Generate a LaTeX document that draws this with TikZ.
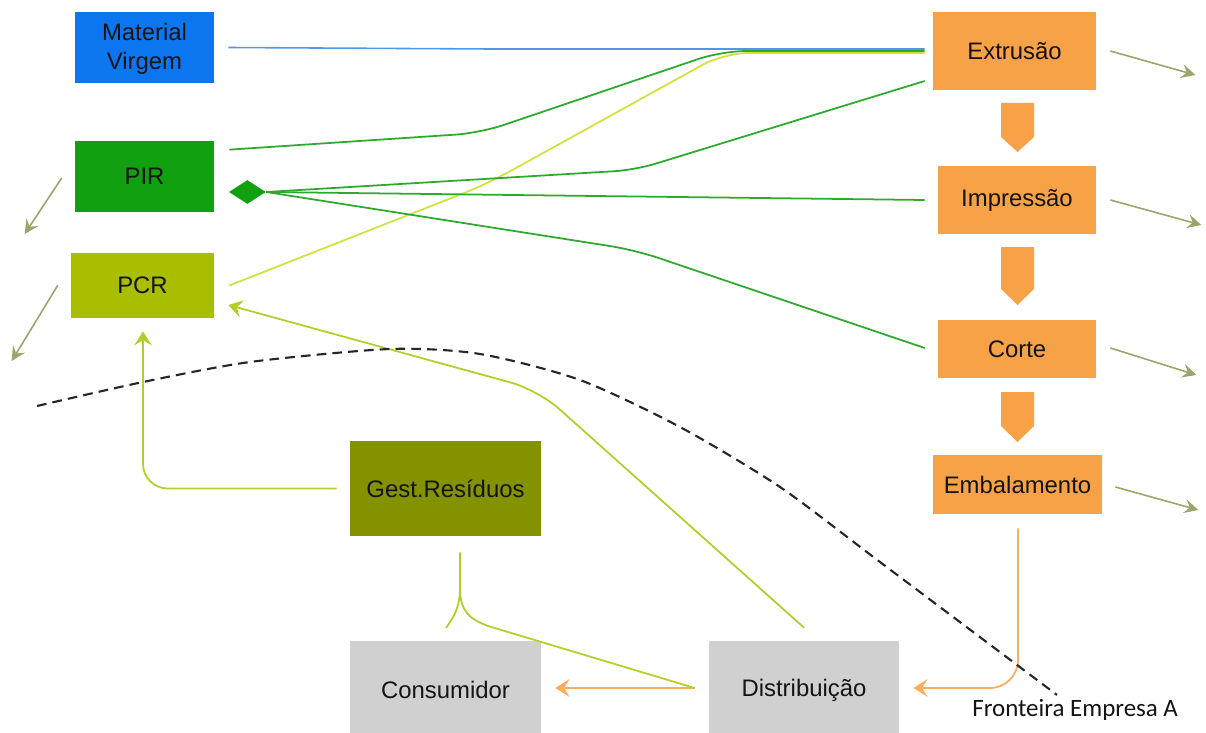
\documentclass[tikz,border=0pt]{standalone}
\usepackage{fontspec}
\setmainfont{Liberation Sans}
\newfontfamily\framefont{Carlito}
\usetikzlibrary{calc,arrows.meta,shapes.geometric}

\definecolor{txt}{RGB}{20,20,20}
\definecolor{mvblue}{RGB}{12,118,240}
\definecolor{pirgreen}{RGB}{16,160,16}
\definecolor{pcrlime}{RGB}{170,190,0}
\definecolor{procorange}{RGB}{248,162,72}
\definecolor{olivebox}{RGB}{132,146,0}
\definecolor{greybox}{RGB}{208,208,208}
\definecolor{outarrow}{RGB}{155,165,105}
\definecolor{blueline}{RGB}{80,150,235}
\definecolor{greenline}{RGB}{45,170,45}
\definecolor{yellowline}{RGB}{210,225,60}
\definecolor{returnline}{RGB}{180,205,40}
\definecolor{orangeline}{RGB}{250,172,95}

\begin{document}
\begin{tikzpicture}[x=0.02cm,y=-0.02cm,
  box/.style={draw=none, inner sep=0pt, align=center, text=txt,
    font=\fontsize{13.6}{16.2}\selectfont},
  flow/.style={line width=1pt},
  outflow/.style={line width=0.9pt, draw=outarrow,
    -{Stealth[length=8pt,width=8pt,inset=3pt]}},
  tipA/.style={-{Stealth[length=8pt,width=10pt,inset=3pt]}},
  chev/.style={fill=procorange},
  border/.style={dashed, line width=1.2pt, dash pattern=on 5.5pt off 3.5pt, draw=black!85}
]
\useasboundingbox (0,0) rectangle (1206,733);

% --- source materials
\node[box, fill=mvblue, minimum width=2.78cm, minimum height=1.42cm] (mv) at (144.5,47.5) {\strut Material\\Virgem};
\node[box, fill=pirgreen, minimum width=2.78cm, minimum height=1.42cm] (pir) at (144.5,176.5) {PIR};
\node[box, fill=pcrlime, minimum width=2.86cm, minimum height=1.30cm] (pcr) at (142.5,285.5) {PCR};

% --- process chain
\node[box, fill=procorange, minimum width=3.26cm, minimum height=1.56cm] (ext) at (1014.5,51) {Extrusão};
\node[box, fill=procorange, minimum width=3.16cm, minimum height=1.36cm] (imp) at (1017,200) {Impressão};
\node[box, fill=procorange, minimum width=3.16cm, minimum height=1.16cm] (cor) at (1017,349) {Corte};
\node[box, fill=procorange, minimum width=3.38cm, minimum height=1.18cm] (emb) at (1017.5,484.5) {Embalamento};

% --- downstream
\node[box, fill=olivebox, minimum width=3.82cm, minimum height=1.90cm] (gest) at (445.5,488.5) {Gest.Resíduos};
\node[box, fill=greybox, minimum width=3.82cm, minimum height=1.96cm] (cons) at (445.5,690) {Consumidor};
\node[box, fill=greybox, minimum width=3.80cm, minimum height=1.96cm] (dist) at (804,690) {Distribuição};

% --- chevrons between process steps
\fill[chev] (1001,103) -- (1034,103) -- (1034,137) -- (1017.5,152) -- (1001,137) -- cycle;
\fill[chev] (1001,247) -- (1034,247) -- (1034,289) -- (1017.5,305) -- (1001,289) -- cycle;
\fill[chev] (1001,392) -- (1034,392) -- (1034,426) -- (1017.5,442) -- (1001,426) -- cycle;

% --- PIR split point
\node[diamond, fill=pirgreen, inner sep=0pt, minimum width=0.74cm, minimum height=0.48cm] (dm) at ($(pir.east)+(33,15.5)$) {};

% --- material flows into the process
\draw[flow, blueline, line width=0.9pt] ($(mv.east)+(14,0)$) -- (490,49) -- ($(ext.west)+(-8,-2)$);
\draw[flow, greenline, rounded corners=14pt] ($(pir.north east)+(15,9)$) -- (480,133) -- (722,51) -- ($(ext.west)+(-8,0)$);
\draw[flow, yellowline, rounded corners=14pt] ($(pcr.east)+(15,0)$) -- (487,184) -- (724,53) -- ($(ext.west)+(-8,2)$);
\draw[flow, greenline, rounded corners=12pt] (dm.east) -- (635,170) -- ($(ext.west)+(-8,30)$);
\draw[flow, greenline] (dm.east) -- ($(imp.west)+(-13,0)$);
\draw[flow, greenline, rounded corners=14pt] (dm.east) -- (635,250) -- ($(cor.west)+(-13,-1)$);

% --- outgoing flows
\draw[outflow] ($(ext.east)+(14,0)$) -- ($(ext.east)+(99,24)$);
\draw[outflow] ($(imp.east)+(14,0)$) -- ($(imp.east)+(105,25)$);
\draw[outflow] ($(cor.east)+(14,-1)$) -- ($(cor.east)+(100,26)$);
\draw[outflow] ($(emb.east)+(13,2.5)$) -- ($(emb.east)+(96,25.5)$);
\draw[outflow] ($(pir.west)+(-13,1.5)$) -- ($(pir.west)+(-50,57.5)$);
\draw[outflow] ($(pcr.west)+(-13,0)$) -- ($(pcr.west)+(-59,75.5)$);

% --- packaging to distribution to consumer
\draw[flow, orangeline, tipA, rounded corners=16pt] ($(emb.south)+(0.5,14)$) |- ($(dist.east)+(14,-2)$);
\draw[flow, orangeline, tipA] ($(dist.west)+(-14,-2)$) -- ($(cons.east)+(14,-2)$);

% --- return flows to PCR
\draw[flow, returnline, tipA, rounded corners=14pt] ($(gest.west)+(-13,0)$) -| ($(pcr.south)+(0.5,13)$);
\draw[flow, returnline, tipA, rounded corners=16pt] ($(dist.north)+(0,-13)$) -- (538,390) -- ($(pcr.east)+(14,19.5)$);

% --- waste collection from consumer and distribution
\coordinate (split) at (460,588);
\draw[flow, returnline] ($(gest.south)+(14.5,16)$) -- (split)
  .. controls (460,608) and (453,618) .. (446,628);
\draw[flow, returnline] (split) .. controls (460,612) and (470,619) .. (488,626)
  -- ($(dist.west)+(-14,-2)$);

% --- company boundary
\draw[border] plot[smooth, tension=0.45] coordinates {(37,406) (143,382) (250,362) (390,349) (480,354) (580,380) (680,427) (780,487) (880,562) (1057,695)};
\node[anchor=base west, inner sep=0pt, text=txt, font=\framefont\fontsize{14.2}{17}\selectfont] (fr) at (972,716) {Fronteira Empresa A};
\end{tikzpicture}
\end{document}
